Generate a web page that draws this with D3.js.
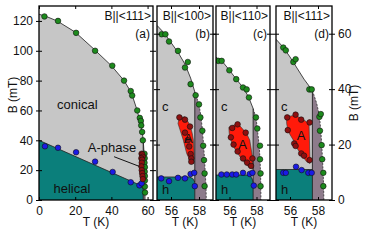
<!DOCTYPE html>
<html>
<head>
<meta charset="utf-8">
<script src="https://cdn.jsdelivr.net/npm/d3@7"></script>
<style>
  body { margin: 0; background: #fff; }
  text { font-family: "Liberation Sans", Arial, sans-serif; fill: #111; }
</style>
</head>
<body>
<div id="chart"></div>
<script>
// ---- data (T in K, B in mT) ----
var tempTicksA = [0, 20, 40, 60];
var fieldTicksA = [0, 20, 40, 60, 80, 100, 120];
var tempTicksZoom = [56, 58];
var fieldTicksZoom = [0, 20, 40, 60];

// panel (a) B||<111> wide range
var upperA = [[0,124.5],[5,122.5],[10,120],[20,112.5],[30,101.5],[40,90],[47,80],[51,72],[54,61],[56,52],[57,46],[57.6,40]];
var edgeA = [[57.6,40],[58,33],[58.3,25],[58.5,15],[58.6,5],[58.6,0]];
var helicalA = [[0,40],[57.6,9]];
var aPhaseA = [[56.6,31],[57.3,31],[57.6,27],[57.6,13],[57.2,14],[56.6,20]];
var greenA = [[3,123],[10.5,120],[20.5,112],[31,100],[40.5,90],[47,80],[50.7,73],[51.5,70],[54.3,60],[55.7,55],[56.3,53],[56.5,50],[57,45.6],[57.4,40],
              [58.3,31],[58.4,28],[58.3,25],[58.5,22],[58.4,19],[58.5,16],[58.5,13],[58.5,9],[58.6,5]];
var blueA = [[3.3,36],[10.5,35],[20.5,32],[31,25.7],[40.7,18.8],[50.7,11.9],[55.5,9.8],[56.7,11.2]];
var redA = [[56.7,31],[57.1,30.5],[57.3,29],[56.6,28],[57,27],[56.8,25],[56.6,22.5],[56.8,20],[57,18],[57.2,16],[57.4,14]];

// panel (b) B||<100>
var upperB = [[55,63],[55.5,60.3],[56,56.8],[56.5,53.3],[57,49],[57.4,44],[57.7,39]];
var edgeB = [[57.7,39],[58,34.5],[58.15,29.8],[58.25,25],[58.33,19.6],[58.4,14.4],[58.45,9.6],[58.5,5],[58.52,0]];
var helicalB = [[55,8.3],[57.3,8.3],[57.55,7.8],[57.7,6.5]];
var aPhaseB = [[56.6,29.8],[57,30],[57.36,27],[57.52,24],[57.6,21.6],[57.66,15.6],[57.64,13.2],[57.4,13.8],[57.12,16.8],[56.88,21.6],[56.5,27.6]];
var greenB = [[55.33,59.8],[55.6,59.8],[55.86,57.2],[56.5,53.8],[57.2,49.8],[57,47.8],[57.4,41.8],[57.76,37.8],[58,34.5],[58.1,29.8],
              [58.24,25],[58.3,19.6],[58.36,14.4],[58.4,9.6],[58.4,5]];
var blueB = [[55.3,7.8],[55.86,6.8],[56.5,8],[57,7.8],[57.4,9.4],[57.66,9.8],[57.7,5]];
var redB = [[56.6,29.8],[57,29],[57.36,26.5],[57,24.3],[57.2,21.6],[57.3,19.3],[57.4,16.6],[57.45,15],[57.45,13.8]];

// panel (c) B||<110>
var upperC = [[55,51.5],[55.5,49.8],[56,46.8],[56.5,43.6],[57,40.6],[57.4,37.3],[57.75,33]];
var edgeC = [[57.75,33],[57.96,29.8],[58.06,25.8],[58.2,19.6],[58.26,14.7],[58.3,9.6],[58.32,5],[58.33,0]];
var helicalC = [[55,9],[57.4,9],[57.65,8],[57.75,6.5]];
var aPhaseC = [[55.95,26.2],[56.5,27.4],[56.78,26.7],[57.27,24],[57.5,21.6],[57.7,15.6],[57.76,11.4],[57.39,12],[56.78,15.6],[56.3,19.2],[56,22.8]];
var greenC = [[55.17,50.2],[55.42,50.2],[55.99,46.8],[56.5,43.6],[57,40.6],[57.27,39.9],[57.44,37],[57.96,29.8],[58.06,25.8],
              [58.26,19.6],[58.26,14.7],[58.3,9.6],[58.3,5]];
var blueC = [[55.4,9.2],[55.8,9.2],[56.2,9.2],[56.5,9.2],[57,9.8],[57.5,9.4],[57.7,9.8],[57.8,5.2]];
var redC = [[56.2,26],[56.6,27.3],[57.2,24.3],[56.1,22.6],[56.3,20],[56.6,17.5],[57,15],[57.3,13.5],[57.6,12.3],[57.7,15]];

// panel (d) B||<111>
var upperD = [[55,58],[55.5,55.2],[56,51.6],[56.5,47.6],[57,43.6],[57.6,39.5]];
var edgeD = [[57.6,39.5],[57.9,35],[58.1,30.5],[58.2,25],[58.27,19.8],[58.32,14.7],[58.37,9.8],[58.4,5],[58.42,0]];
var helicalD = [[55,11],[57.6,11]];
var aPhaseD = [[55.76,30],[56.36,30.6],[56.83,29.4],[57.36,27.6],[57.43,13.2],[57.19,13.8],[56.83,16.2],[56.43,19.2],[56.24,21.6],[55.88,24.6],[55.76,27.6]];
var greenD = [[55.52,55],[55.7,54],[56.24,49.8],[56.4,50.8],[57.38,39.9],[57.55,39.9],[58.1,30],[58.2,31],[58.14,25],[58.26,19.8],
              [58.3,14.7],[58.38,9.8],[58.38,5]];
var blueD = [[55.52,9.8],[55.7,9.8],[56.43,12],[56.83,10.8],[57.31,9.8],[57.55,9.8]];
var redD = [[55.8,29.8],[56.4,30.8],[56.8,29],[57.4,28],[55.84,25.2],[56.3,20.4],[56.4,19.5],[56.8,16.8],[57,16],[57.4,14.4]];

// ---- layout ----
var width = 374, height = 243;
var plotTop = 6, plotBottom = 200;

var panels = [
  {key: "a", left: 39, right: 153, tDom: [0, 63], bDom: [0, 130], tTicks: tempTicksA, bTicks: fieldTicksA,
   upper: upperA, edge: edgeA, helical: helicalA, aPhase: aPhaseA, green: greenA, blue: blueA, red: redA,
   title: "B||<111>", tag: "(a)", dashedEdge: false},
  {key: "b", left: 157, right: 213, tDom: [55, 59], bDom: [0, 70], tTicks: tempTicksZoom, bTicks: fieldTicksZoom,
   upper: upperB, edge: edgeB, helical: helicalB, aPhase: aPhaseB, green: greenB, blue: blueB, red: redB,
   title: "B||<100>", tag: "(b)", dashedEdge: true},
  {key: "c", left: 216, right: 270, tDom: [55, 59], bDom: [0, 70], tTicks: tempTicksZoom, bTicks: fieldTicksZoom,
   upper: upperC, edge: edgeC, helical: helicalC, aPhase: aPhaseC, green: greenC, blue: blueC, red: redC,
   title: "B||<110>", tag: "(c)", dashedEdge: true},
  {key: "d", left: 276, right: 332, tDom: [55, 59], bDom: [0, 70], tTicks: tempTicksZoom, bTicks: fieldTicksZoom,
   upper: upperD, edge: edgeD, helical: helicalD, aPhase: aPhaseD, green: greenD, blue: blueD, red: redD,
   title: "B||<111>", tag: "(d)", dashedEdge: true}
];

var svg = d3.select("#chart").append("svg")
    .attr("width", width)
    .attr("height", height);

var intFmt = d3.format("d");

panels.forEach(function(p, i) {
  var x = d3.scaleLinear().domain(p.tDom).range([p.left, p.right]);
  var y = d3.scaleLinear().domain(p.bDom).range([plotBottom, plotTop]);
  var line = d3.line().x(d => x(d[0])).y(d => y(d[1]));

  svg.append("clipPath").attr("id", "clip" + p.key)
    .append("rect").attr("x", p.left).attr("y", plotTop)
    .attr("width", p.right - p.left).attr("height", plotBottom - plotTop);

  var g = svg.append("g").attr("clip-path", "url(#clip" + p.key + ")");

  var t0 = p.tDom[0];
  var tc1 = p.edge[0][0];
  var tEnd = p.edge[p.edge.length - 1][0];

  // conical (grey) under upper boundary
  var grey = p.upper.concat(p.edge, [[tEnd, 0], [t0, 0]]);
  g.append("path").attr("d", line(grey) + "Z").attr("fill", "#c6c6c6");

  // fluctuation region (mauve)
  var purple = [[tc1, 0]].concat(p.edge);
  g.append("path").attr("d", line(purple) + "Z").attr("fill", "#8d7b8b");

  // helical (teal)
  var h = p.helical;
  var teal = [[t0, 0]].concat(h, [[h[h.length - 1][0], 0]]);
  if (p.key == "a") teal = [[t0, 0]].concat(h, [[tc1, h[h.length - 1][1]], [tc1, 0]]);
  g.append("path").attr("d", line(teal) + "Z").attr("fill", "#0b7f7b");
  g.append("path").attr("d", line(h)).attr("fill", "none").attr("stroke", "#222").attr("stroke-width", 0.8);

  // A-phase (red)
  g.append("path").attr("d", line(p.aPhase) + "Z").attr("fill", "#ff1a0a")
    .attr("stroke", "#333").attr("stroke-width", 0.6);

  // boundaries
  g.append("path").attr("d", line(p.upper)).attr("fill", "none").attr("stroke", "#333").attr("stroke-width", 0.9);
  g.append("path").attr("d", line(p.edge)).attr("fill", "none").attr("stroke", "#333").attr("stroke-width", 0.8)
    .attr("stroke-dasharray", p.dashedEdge ? "2,1.5" : null);
  g.append("path").attr("d", line([[tc1, 0], [tc1, p.edge[0][1]]])).attr("fill", "none")
    .attr("stroke", "#222").attr("stroke-width", 0.9);

  // points
  var series = [[p.green, "#1d8a1d"], [p.blue, "#1a1ae6"], [p.red, "#8e1010"]];
  series.forEach(function(s) {
    g.selectAll(null).data(s[0]).enter().append("circle")
      .attr("cx", d => x(d[0])).attr("cy", d => y(d[1])).attr("r", 2.8)
      .attr("fill", s[1]).attr("stroke", "#111").attr("stroke-width", 0.6);
  });

  // frame
  svg.append("rect").attr("x", p.left).attr("y", plotTop)
    .attr("width", p.right - p.left).attr("height", plotBottom - plotTop)
    .attr("fill", "none").attr("stroke", "#000").attr("stroke-width", 1.3);

  // axes: ticks crossing frame
  var ax = svg.append("g");
  ax.append("g").attr("transform", "translate(0," + plotBottom + ")")
    .call(d3.axisBottom(x).tickValues(p.tTicks).tickSizeInner(-3).tickSizeOuter(0).tickPadding(6).tickFormat(intFmt))
    .call(a => a.select(".domain").remove());
  ax.append("g").attr("transform", "translate(0," + plotTop + ")")
    .call(d3.axisTop(x).tickValues(p.tTicks).tickSizeInner(-3).tickSizeOuter(0).tickFormat(""))
    .call(a => a.select(".domain").remove());
  ax.append("g").attr("transform", "translate(" + p.left + ",0)")
    .call(d3.axisLeft(y).tickValues(p.bTicks).tickSizeInner(3).tickSizeOuter(0).tickPadding(3)
      .tickFormat(i == 0 ? intFmt : ""))
    .call(a => a.select(".domain").remove());
  ax.append("g").attr("transform", "translate(" + p.right + ",0)")
    .call(d3.axisRight(y).tickValues(p.bTicks).tickSizeInner(3).tickSizeOuter(0).tickPadding(3)
      .tickFormat(i == 3 ? intFmt : ""))
    .call(a => a.select(".domain").remove());
  // inner halves of y ticks
  ax.append("g").attr("transform", "translate(" + p.left + ",0)")
    .call(d3.axisRight(y).tickValues(p.bTicks).tickSizeInner(3).tickSizeOuter(0).tickFormat(""))
    .call(a => a.select(".domain").remove());
  ax.append("g").attr("transform", "translate(" + p.right + ",0)")
    .call(d3.axisLeft(y).tickValues(p.bTicks).tickSizeInner(3).tickSizeOuter(0).tickFormat(""))
    .call(a => a.select(".domain").remove());
  ax.selectAll("text").attr("font-size", "12px").attr("font-family", "Liberation Sans, Arial, sans-serif").attr("fill", "#111");
  ax.selectAll("line").attr("stroke", "#000");

  // x label
  svg.append("text").attr("x", (p.left + p.right) / 2).attr("y", 226)
    .attr("text-anchor", "middle").attr("font-size", "12px").text("T (K)");

  // title and tag
  svg.append("text").attr("x", p.right - 2).attr("y", 20)
    .attr("text-anchor", "end").attr("font-size", "12px").text(p.title);
  svg.append("text").attr("x", p.right - 3).attr("y", 38)
    .attr("text-anchor", "end").attr("font-size", "12px").text(p.tag);

  // region labels
  if (p.key == "a") {
    svg.append("text").attr("x", x(10)).attr("y", y(61)).attr("font-size", "13px").text("conical");
    svg.append("text").attr("x", x(8)).attr("y", y(5)).attr("font-size", "13px").text("helical");
    svg.append("text").attr("x", x(27)).attr("y", y(32)).attr("font-size", "13px").text("A-phase");
    svg.append("line").attr("x1", x(41.5)).attr("y1", y(29)).attr("x2", x(55.5)).attr("y2", y(22.5))
      .attr("stroke", "#111").attr("stroke-width", 1);
  } else {
    svg.append("text").attr("x", p.left + 5).attr("y", y(32)).attr("font-size", "13px").text("c");
    svg.append("text").attr("x", p.left + 5).attr("y", y(2)).attr("font-size", "13px").text("h");
    var ac = d3.polygonCentroid(p.aPhase.map(d => [x(d[0]), y(d[1])]));
    svg.append("text").attr("x", ac[0] + 1).attr("y", ac[1] + 5).attr("text-anchor", "middle")
      .attr("font-size", "13px").text("A");
  }
});

// y axis titles
svg.append("text").attr("transform", "translate(17,95) rotate(-90)")
  .attr("text-anchor", "middle").attr("font-size", "12px").text("B (mT)");
svg.append("text").attr("transform", "translate(358,103) rotate(-90)")
  .attr("text-anchor", "middle").attr("font-size", "12px").text("B (mT)");
</script>
</body>
</html>
